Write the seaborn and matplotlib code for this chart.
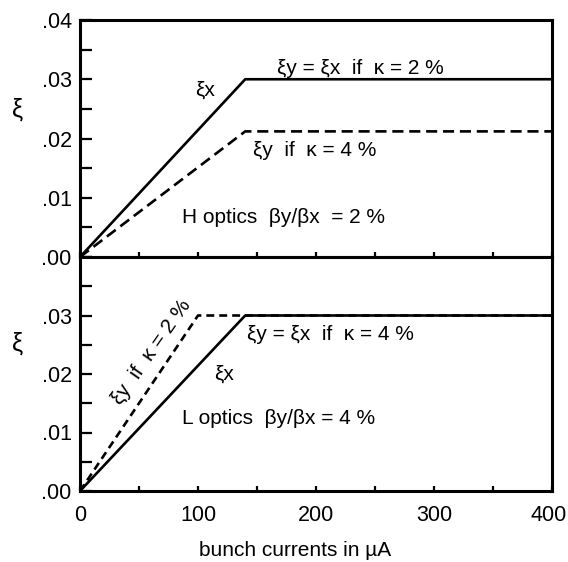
import numpy as np
import pandas as pd
import matplotlib
matplotlib.use("Agg")
import matplotlib.pyplot as plt
import matplotlib.transforms as mtrans
from matplotlib.ticker import MultipleLocator, FuncFormatter
import seaborn as sns

# ---- data ----
top_current = [0, 140, 400]
top_xi_x = [0.0, 0.030, 0.030]
top_xi_y_k4 = [0.0, 0.0212, 0.0212]

bot_current_x = [0, 140, 400]
bot_xi_x = [0.0, 0.030, 0.030]
bot_current_y = [0, 100, 400]
bot_xi_y_k2 = [0.0, 0.030, 0.030]

y_ticks_top = [0.00, 0.01, 0.02, 0.03, 0.04]
y_ticks_bot = [0.00, 0.01, 0.02, 0.03]
x_ticks = [0, 100, 200, 300, 400]

sns.set_style("white")
plt.rcParams['font.family'] = ['Liberation Sans', 'DejaVu Sans']
plt.rcParams['font.size'] = 15
for k in ("text.color", "axes.labelcolor", "xtick.color", "ytick.color", "axes.edgecolor"):
    plt.rcParams[k] = "black"

W, H = 568, 562
fig = plt.figure(figsize=(W / 100, H / 100), dpi=100)

def fr(l, t, r, b):
    return [l / W, 1 - b / H, (r - l) / W, (b - t) / H]

ax1 = fig.add_axes(fr(80, 20, 552, 257))
ax2 = fig.add_axes(fr(80, 257, 552, 491))

lw = 1.9
df_top = pd.DataFrame({"I": top_current, "xx": top_xi_x, "xy": top_xi_y_k4})
sns.lineplot(data=df_top, x="I", y="xx", ax=ax1, color="black", lw=lw)
sns.lineplot(data=df_top, x="I", y="xy", ax=ax1, color="black", lw=lw,
             linestyle=(0, (4.2, 2.2)))

df_bx = pd.DataFrame({"I": bot_current_x, "v": bot_xi_x})
df_by = pd.DataFrame({"I": bot_current_y, "v": bot_xi_y_k2})
sns.lineplot(data=df_by, x="I", y="v", ax=ax2, color="black", lw=lw,
             linestyle=(0, (3.0, 1.9)))
sns.lineplot(data=df_bx, x="I", y="v", ax=ax2, color="black", lw=lw)

fmt = FuncFormatter(lambda v, p: ("%.2f" % v).lstrip("0"))
for ax, yt in ((ax1, y_ticks_top), (ax2, y_ticks_bot)):
    ax.set_xlim(0, 400)
    ax.set_ylim(0, 0.04)
    ax.set_yticks(yt)
    ax.yaxis.set_minor_locator(MultipleLocator(0.005))
    ax.yaxis.set_major_formatter(fmt)
    ax.set_xticks(x_ticks)
    ax.xaxis.set_minor_locator(MultipleLocator(50))
    ax.tick_params(axis="y", which="both", direction="in", length=8.6, width=1.6,
                   left=True, right=False, labelsize=15.5, pad=6)
    ax.tick_params(axis="x", which="both", direction="in", length=3.8, width=1.6,
                   bottom=True, top=False, labelsize=15.5, pad=10)
    for s in ax.spines.values():
        s.set_linewidth(2.2)
        s.set_color("black")
    ax.set_ylabel("ξ", rotation=0, fontsize=18, ha="center", va="center")
    ax.set_xlabel("")

ax1.tick_params(axis="x", labelbottom=False)
ax1.yaxis.set_label_coords(-0.133, 0.62)
ax2.yaxis.set_label_coords(-0.133, 0.63)
ax2.set_xlabel("bunch currents in µA", fontsize=15)
ax2.xaxis.set_label_coords(0.456, -0.215)

# keep the last x tick label inside the canvas
fig.canvas.draw()
last = ax2.get_xticklabels()[-1]
last.set_transform(last.get_transform() + mtrans.ScaledTranslation(-3 / 100, 0, fig.dpi_scale_trans))

fs = 15
ax1.text(106, 0.0281, "ξx", ha="center", va="center", fontsize=fs)
ax1.text(167, 0.0318, "ξy = ξx  if  κ = 2 %", ha="left", va="center", fontsize=fs)
ax1.text(146.5, 0.0180, "ξy  if  κ = 4 %", ha="left", va="center", fontsize=fs)
ax1.text(86.4, 0.0066, "H optics  βy/βx  = 2 %", ha="left", va="center", fontsize=fs)

ax2.text(61, 0.0238, "ξy  if  κ = 2 %", ha="center", va="center", fontsize=fs,
         rotation=55, rotation_mode="anchor")
ax2.text(122, 0.0200, "ξx", ha="center", va="center", fontsize=fs)
ax2.text(141.5, 0.0267, "ξy = ξx  if  κ = 4 %", ha="left", va="center", fontsize=fs)
ax2.text(86.4, 0.0124, "L optics  βy/βx = 4 %", ha="left", va="center", fontsize=fs)

fig.savefig("out.png", dpi=100)
